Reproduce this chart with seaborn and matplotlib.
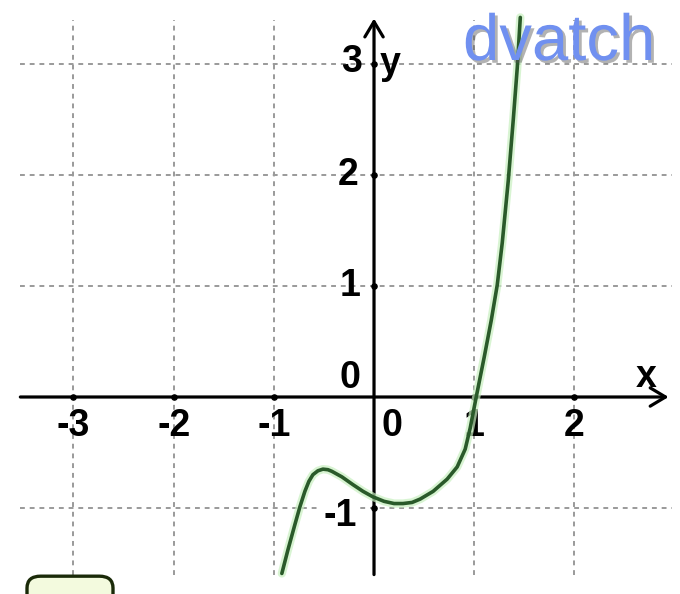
import matplotlib
matplotlib.use("Agg")
import matplotlib.pyplot as plt
import matplotlib.patheffects as pe
from matplotlib.patches import FancyBboxPatch
import seaborn as sns

# points
curve_x = [-0.92, -0.86, -0.79, -0.74, -0.69, -0.65, -0.61, -0.56, -0.51, -0.46,
           -0.42, -0.32, -0.21, -0.11, -0.01, 0.1, 0.2, 0.29, 0.38, 0.46,
           0.59, 0.73, 0.83, 0.91, 0.96, 1.02, 1.1, 1.17, 1.23, 1.28,
           1.34, 1.39, 1.43, 1.46]
curve_y = [-1.59, -1.38, -1.15, -0.99, -0.85, -0.76, -0.70, -0.665, -0.65, -0.655,
           -0.67, -0.72, -0.79, -0.85, -0.90, -0.94, -0.96, -0.96, -0.95, -0.92,
           -0.85, -0.74, -0.63, -0.47, -0.28, 0.0, 0.36, 0.69, 1.01, 1.39,
           1.95, 2.5, 2.97, 3.42]

x_ticks = [-3, -2, -1, 1, 2]
y_ticks = [-1, 1, 2, 3]
x_labels = ["-3", "-2", "-1", "0", "1", "2"]
x_label_pos = [-3, -2, -1, 0.18, 1, 2]
y_labels = ["3", "2", "1", "0"]
y_label_pos = [3.02, 2.0, 1.0, 0.17]
y_label_x = [-0.22, -0.26, -0.24, -0.24]

sns.set_theme(style="white")
plt.rcParams['font.family'] = ['Liberation Sans', 'DejaVu Sans']

fig = plt.figure(figsize=(6.8, 5.94), dpi=100)
ax = fig.add_axes([0, 0, 1, 1])
ax.set_xlim(-3.733, 3.054)
ax.set_ylim(-1.775, 3.577)
ax.axis("off")

# dashed grid
grid_kw = dict(color="#9a9a9a", lw=1.4, linestyles=(0, (2.5, 2.5)), zorder=1)
ax.hlines(y_ticks, -3.53, 2.97, **grid_kw)
ax.vlines(x_ticks, -1.60, 3.40, **grid_kw)

# axes with arrows
arrow = dict(arrowstyle="->,head_length=0.5,head_width=0.3", lw=2.3,
             color="black", mutation_scale=22, shrinkA=0, shrinkB=0)
ax.annotate("", xy=(2.94, 0), xytext=(-3.53, 0), arrowprops=arrow, zorder=3)
ax.annotate("", xy=(0, 3.41), xytext=(0, -1.60), arrowprops=arrow, zorder=3)

# tick dots on the axes
ax.scatter(x_ticks, [0] * len(x_ticks), s=14, color="black", zorder=4)
ax.scatter([0] * len(y_ticks), y_ticks, s=14, color="black", zorder=4)

lab_kw = dict(fontsize=27, fontweight="bold", color="black", ha="center", va="center",
              zorder=5)
for t, xp in zip(x_labels, x_label_pos):
    ax.text(xp, -0.26, t, **lab_kw)
for t, xp, yp in zip(y_labels, y_label_x, y_label_pos):
    ax.text(xp, yp, t, **lab_kw)
# the -1 label sits on a white patch over the grid
ax.text(-0.34, -1.07, "-1", bbox=dict(boxstyle="square,pad=0.05", fc="white", ec="none"),
        **lab_kw)
ax.text(2.72, 0.18, "x", **lab_kw)
ax.text(0.16, 3.0, "y", **lab_kw)

# the curve
sns.lineplot(x=curve_x, y=curve_y, sort=False, ax=ax, color="#2a5a2a", lw=2.6,
             zorder=6, solid_joinstyle="round", solid_capstyle="round",
             path_effects=[pe.Stroke(linewidth=6, foreground="#c8f0c0", alpha=0.7),
                           pe.Normal()])

# watermark
fig.text(463 / 680, 1 - 60 / 594, "dvatch", fontsize=47, color="#7090f0",
         ha="left", va="baseline", zorder=7,
         path_effects=[pe.withSimplePatchShadow(offset=(2, -2), shadow_rgbFace="#555555",
                                                alpha=0.45)])

# rounded box at the bottom left
fig.patches.append(FancyBboxPatch((27 / 680, -0.05), 86 / 680, 0.08,
                                  boxstyle="round,pad=0,rounding_size=0.02",
                                  transform=fig.transFigure, fc="#f3fade",
                                  ec="#1a2a08", lw=2.4))

fig.savefig("out.png", dpi=100)
